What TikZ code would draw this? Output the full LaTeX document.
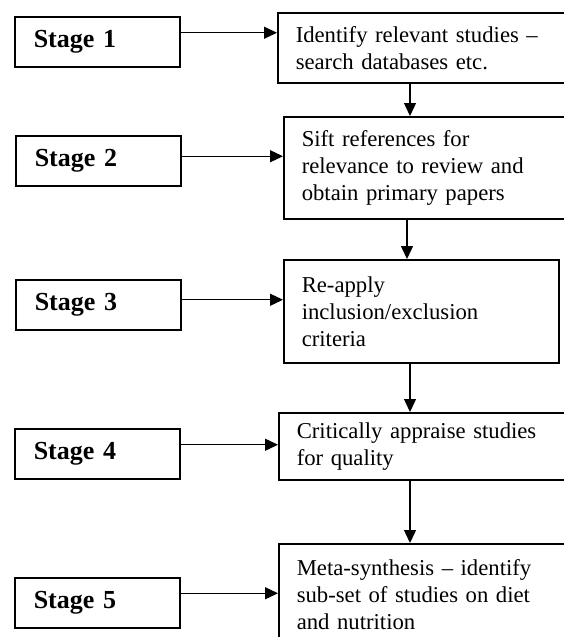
\documentclass[tikz,border=0pt]{standalone}
\usepackage{fontspec}
\setmainfont{Liberation Serif}
\usetikzlibrary{arrows.meta}

\begin{document}
\begin{tikzpicture}[
  x=1pt,
  y=-1pt,
  line join=miter,
  stagebox/.style={draw, line width=1.5pt, anchor=north west,
    minimum height=50pt, text width=127pt, inner xsep=19pt, align=left,
    font=\fontsize{26}{30}\selectfont\bfseries},
  stepbox/.style={draw, line width=1.5pt, anchor=north west,
    inner xsep=18pt, align=left,
    font=\fontsize{22.7}{27}\selectfont},
  arr/.style={line width=1.3pt, -{Triangle[length=13pt,width=12pt]}}
]
  % Рамка рисунка (правый и нижний края обрезаны)
  \path[use as bounding box, clip] (0,0) rectangle (564,637);

  % Стадии слева
  \node[stagebox] (s1) at (14,16)  {Stage 1};
  \node[stagebox] (s2) at (15,135) {Stage 2};
  \node[stagebox] (s3) at (15,279) {Stage 3};
  \node[stagebox] (s4) at (14,428) {Stage 4};
  \node[stagebox] (s5) at (14,577) {Stage 5};

  % Действия справа
  \node[stepbox, text width=253pt, minimum height=70pt] (b1) at (277,12)
    {Identify relevant studies --\\ search databases etc.};
  \node[stepbox, text width=247pt, minimum height=102pt] (b2) at (283,116)
    {Sift references for\\ relevance to review and\\ obtain primary papers};
  \node[stepbox, text width=239pt, minimum height=103pt] (b3) at (283,259)
    {Re-apply\\ inclusion/exclusion\\ criteria};
  \node[stepbox, text width=252pt, minimum height=67pt] (b4) at (278,412)
    {Critically appraise studies\\ for quality};
  \node[stepbox, text width=252pt, minimum height=102pt] (b5) at (278,543)
    {Meta-synthesis -- identify\\ sub-set of studies on diet\\ and nutrition};

  % Горизонтальные стрелки
  \draw[arr] ([yshift=9pt]s1.east) -- ([yshift=9pt]s1.east -| b1.west);
  \draw[arr] ([yshift=4.5pt]s2.east) -- ([yshift=4.5pt]s2.east -| b2.west);
  \draw[arr] ([yshift=5pt]s3.east) -- ([yshift=5pt]s3.east -| b3.west);
  \draw[arr] ([yshift=9pt]s4.east) -- ([yshift=9pt]s4.east -| b4.west);
  \draw[arr] ([yshift=9.5pt]s5.east) -- ([yshift=9.5pt]s5.east -| b5.west);

  % Вертикальные стрелки
  \coordinate (col)  at (410,0);
  \coordinate (col2) at (407,0);
  \draw[arr] (b1.south -| col)  -- (b2.north -| col);
  \draw[arr] (b2.south -| col2) -- (b3.north -| col2);
  \draw[arr] (b3.south -| col)  -- (b4.north -| col);
  \draw[arr] (b4.south -| col)  -- (b5.north -| col);
\end{tikzpicture}
\end{document}
